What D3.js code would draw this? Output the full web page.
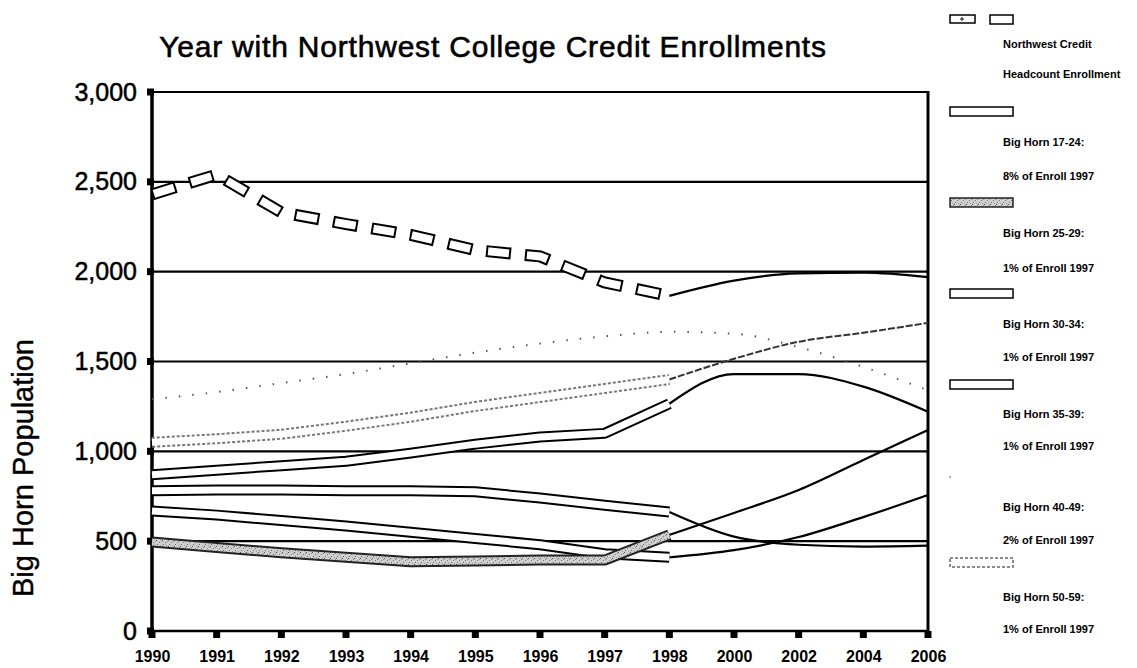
<!DOCTYPE html>
<html>
<head>
<meta charset="utf-8">
<script src="https://cdn.jsdelivr.net/npm/d3@7"></script>
<style>
  body { margin: 0; background: #fff; }
  svg { font-family: "Liberation Sans", Arial, sans-serif; }
</style>
</head>
<body>
<svg id="chart" width="1137" height="668"></svg>
<script>
// categories (note the 2-year steps after 1998)
var years = ["1990","1991","1992","1993","1994","1995","1996","1997","1998","2000","2002","2004","2006"];
var yTicks = [0, 500, 1000, 1500, 2000, 2500, 3000];

// series values
var nwCredit = [2430, 2540, 2330, 2265, 2205, 2120, 2085, 1940, 1865, 1950, 1990, 1995, 1970];
var bh1724   = [870, 895, 920, 945, 990, 1040, 1080, 1100, 1265, 1430, 1430, 1360, 1220];
var bh2529   = [495, 465, 435, 410, 385, 390, 395, 395, 535, 657, 785, 952, 1119];
var bh3034   = [780, 785, 785, 780, 780, 775, 740, 700, 662, 525, 480, 470, 475];
var bh3539   = [668, 645, 615, 585, 550, 515, 480, 430, 410, 450, 523, 634, 757];
var bh4049   = [1290, 1330, 1380, 1430, 1490, 1550, 1600, 1640, 1665, 1655, 1580, 1470, 1340];
var bh5059   = [1050, 1070, 1095, 1140, 1190, 1250, 1300, 1350, 1400, 1515, 1610, 1660, 1715];

var legendLine1 = ["Northwest Credit", "Big Horn 17-24:", "Big Horn 25-29:", "Big Horn 30-34:", "Big Horn 35-39:", "Big Horn 40-49:", "Big Horn 50-59:"];
var legendLine2 = ["Headcount Enrollment", "8% of Enroll 1997", "1% of Enroll 1997", "1% of Enroll 1997", "1% of Enroll 1997", "2% of Enroll 1997", "1% of Enroll 1997"];

var lastActual = 8; // index of 1998, tubes stop here, thin projection lines start

var svg = d3.select("#chart");

// stipple texture for the 25-29 tube
var defs = svg.append("defs");
var pat = defs.append("pattern").attr("id", "stip")
  .attr("width", 6).attr("height", 6).attr("patternUnits", "userSpaceOnUse");
pat.append("rect").attr("width", 6).attr("height", 6).attr("fill", "#cfcfcf");
[[0,0,"#555"],[3,2,"#777"],[1,4,"#666"],[4,5,"#999"],[5,1,"#888"]].forEach(function(p){
  pat.append("rect").attr("x", p[0]).attr("y", p[1]).attr("width", 1).attr("height", 1).attr("fill", p[2]);
});

var x = d3.scalePoint().domain(years).range([152, 928]);
var y = d3.scaleLinear().domain([0, 3000]).range([631, 92]);

// title (scan looks heavy, so a thin stroke thickens the glyphs)
svg.append("text")
  .attr("x", 493).attr("y", 57)
  .attr("text-anchor", "middle")
  .attr("font-size", 30)
  .attr("letter-spacing", 0.8)
  .attr("stroke", "#000").attr("stroke-width", 0.6)
  .text("Year with Northwest College Credit Enrollments");

// y axis title
svg.append("text")
  .attr("transform", "translate(33,468) rotate(-90)")
  .attr("text-anchor", "middle")
  .attr("font-size", 29)
  .attr("stroke", "#000").attr("stroke-width", 0.4)
  .text("Big Horn Population");

// gridlines
svg.append("g").selectAll("line")
  .data(yTicks.filter(function(d){ return d > 0; }))
  .enter().append("line")
  .attr("x1", x.range()[0]).attr("x2", x.range()[1])
  .attr("y1", function(d){ return y(d); })
  .attr("y2", function(d){ return y(d); })
  .attr("stroke", "#000").attr("stroke-width", 2.2);

// y axis
var yAxis = svg.append("g")
  .attr("transform", "translate(152,0)")
  .call(d3.axisLeft(y).tickValues(yTicks).tickFormat(d3.format(",")).tickSize(0).tickPadding(15));
yAxis.select(".domain").remove();
yAxis.selectAll("text").attr("font-size", 25).attr("fill", "#000")
  .attr("stroke", "#000").attr("stroke-width", 0.5)
  .attr("font-family", "\"Liberation Sans\", Arial, sans-serif");

// x axis
var xAxis = svg.append("g")
  .attr("transform", "translate(0,631)")
  .call(d3.axisBottom(x).tickSize(0).tickPadding(20));
xAxis.select(".domain").remove();
xAxis.selectAll("text").attr("font-size", 16).attr("font-weight", "bold").attr("fill", "#000")
  .attr("font-family", "\"Liberation Sans\", Arial, sans-serif");

// axis lines and the right border
svg.append("line").attr("x1", 152).attr("x2", 152).attr("y1", y(3000) - 3).attr("y2", y(0) + 3)
  .attr("stroke", "#000").attr("stroke-width", 3.5);
svg.append("line").attr("x1", 150).attr("x2", 929).attr("y1", y(0)).attr("y2", y(0))
  .attr("stroke", "#000").attr("stroke-width", 2.5);
svg.append("line").attr("x1", 928).attr("x2", 928).attr("y1", y(3000) - 1).attr("y2", y(0) + 3)
  .attr("stroke", "#000").attr("stroke-width", 3);

// tick squares
svg.append("g").selectAll("rect").data(yTicks).enter().append("rect")
  .attr("x", 147).attr("y", function(d){ return y(d) - 3.5; })
  .attr("width", 7).attr("height", 7).attr("fill", "#000");
svg.append("g").selectAll("rect").data(years).enter().append("rect")
  .attr("x", function(d){ return x(d) - 3.5; }).attr("y", y(0))
  .attr("width", 7).attr("height", 7).attr("fill", "#000");

function pts(vals, from, to) {
  var out = [];
  for (var i = from; i <= to; i++) out.push([x(years[i]), y(vals[i])]);
  return out;
}
var smooth = d3.line().curve(d3.curveMonotoneX);
var straight = d3.line();
var plot = svg.append("g").attr("fill", "none");

// projections 1998-2006 (thin)
[nwCredit, bh1724, bh2529, bh3034, bh3539].forEach(function(vals){
  plot.append("path").attr("d", smooth(pts(vals, lastActual, years.length - 1)))
    .attr("stroke", "#000").attr("stroke-width", 2.2);
});
plot.append("path").attr("d", smooth(pts(bh5059, lastActual, years.length - 1)))
  .attr("stroke", "#333").attr("stroke-width", 2).attr("stroke-dasharray", "7 2");
// 40-49 is only a faint dotted trace in the source
plot.append("path").attr("d", smooth(pts(bh4049, 0, years.length - 1)))
  .attr("stroke", "#555").attr("stroke-width", 2).attr("stroke-dasharray", "1.5 12");

// tubes 1990-1998
function tube(vals, edge, edgeDash, fill) {
  var d = straight(pts(vals, 0, lastActual));
  var o = plot.append("path").attr("d", d).attr("stroke", edge).attr("stroke-width", 11)
    .attr("stroke-linejoin", "round");
  if (edgeDash) o.attr("stroke-dasharray", edgeDash);
  plot.append("path").attr("d", d).attr("stroke", fill).attr("stroke-width", 7)
    .attr("stroke-linejoin", "round");
}
tube(bh5059, "#777", "3 2", "#fff");
tube(bh1724, "#000", null, "#fff");
tube(bh3034, "#000", null, "#fff");
tube(bh3539, "#000", null, "#fff");
tube(bh2529, "#222", null, "url(#stip)");

// enrollment: dashed tube
var nwPath = straight(pts(nwCredit, 0, lastActual));
plot.append("path").attr("d", nwPath).attr("stroke", "#000").attr("stroke-width", 12)
  .attr("stroke-dasharray", "25 14");
plot.append("path").attr("d", nwPath).attr("stroke", "#fff").attr("stroke-width", 8)
  .attr("stroke-dasharray", "21 18").attr("stroke-dashoffset", -2);

// legend
var rectY = [19, 111, 202, 293, 384, 474, 562];
var leg = svg.append("g");
leg.append("rect").attr("x", 950).attr("y", 15).attr("width", 25).attr("height", 8)
  .attr("fill", "#fff").attr("stroke", "#000").attr("stroke-width", 1.5);
leg.append("circle").attr("cx", 962).attr("cy", 19).attr("r", 1.2).attr("fill", "none").attr("stroke", "#000");
leg.append("rect").attr("x", 990).attr("y", 15).attr("width", 23).attr("height", 9)
  .attr("fill", "#fff").attr("stroke", "#000").attr("stroke-width", 1.5);
var swFill = [null, "#fff", "url(#stip)", "#fff", "#fff", null, "#fff"];
var swStroke = [null, "#000", "#222", "#000", "#000", null, "#666"];
var swDash = [null, null, null, null, null, null, "3 2"];
for (var i = 1; i < rectY.length; i++) {
  if (!swFill[i]) continue;
  var r = leg.append("rect").attr("x", 950).attr("y", rectY[i] - 4).attr("width", 63).attr("height", 9)
    .attr("fill", swFill[i]).attr("stroke", swStroke[i]).attr("stroke-width", 1.5);
  if (swDash[i]) r.attr("stroke-dasharray", swDash[i]);
}
leg.append("circle").attr("cx", 950).attr("cy", 477).attr("r", 0.8).attr("fill", "#444");
var l1y = [44, 142, 233, 324, 414, 507, 597];
var l2y = [74, 176, 268, 357, 446, 540, 629];
leg.selectAll("text.l1").data(legendLine1).enter().append("text")
  .attr("x", 1003).attr("y", function(d, i){ return l1y[i] + 4; })
  .attr("font-size", 11).attr("font-weight", "bold").text(function(d){ return d; });
leg.selectAll("text.l2").data(legendLine2).enter().append("text")
  .attr("x", 1003).attr("y", function(d, i){ return l2y[i] + 4; })
  .attr("font-size", 11).attr("font-weight", "bold").text(function(d){ return d; });
</script>
</body>
</html>
